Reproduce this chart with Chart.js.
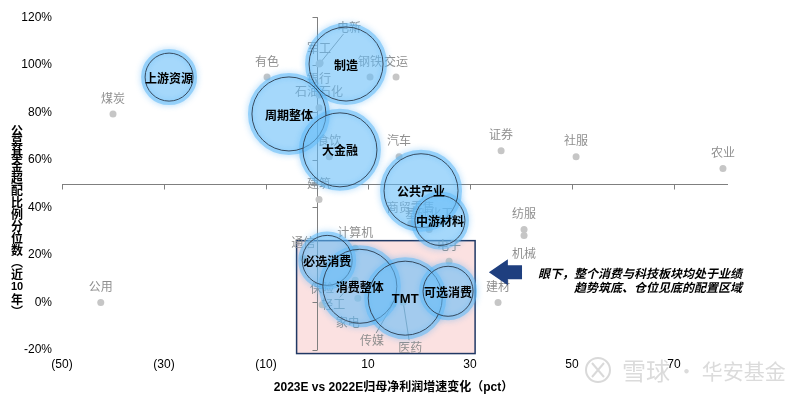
<!DOCTYPE html>
<html>
<head>
<meta charset="utf-8">
<script src="https://cdn.jsdelivr.net/npm/chart.js@4/dist/chart.umd.min.js"></script>
<style>
  html, body { margin: 0; padding: 0; background: #fff; }
  canvas { display: block; }
</style>
</head>
<body>
<canvas id="chart" width="800" height="396"></canvas>
<script>
// 行业（灰点）
const sectorNames = ['煤炭', '有色', '军工', '电新', '钢铁', '交运', '银行', '石油石化', '食饮', '汽车',
  '证券', '社服', '农业', '建筑', '商贸零售', '基础化工', '纺服', '机械', '计算机', '通信',
  '电子', '建材', '公用', '保险', '轻工', '家电', '传媒', '医药'];
const sectorX = [-40.0, -9.8, 0.4, 0.6, 10.4, 15.5, 0.4, 0.4, 2.4, 16.1,
  36.1, 50.8, 79.6, 0.4, 18.4, 22.0, 40.6, 40.6, 7.5, -2.7,
  25.9, 35.5, -42.4, 1.0, 7.5, 8.0, 14.9, 16.9];
const sectorY = [79.3, 94.8, 100.3, 100.7, 94.8, 94.8, 87.3, 81.9, 61.3, 61.3,
  63.8, 61.3, 56.3, 43.3, 33.2, 30.7, 30.7, 28.2, 22.8, 18.6,
  17.3, 0.0, 0.0, -1.0, 9.3, 1.8, -0.7, 0.1];

// 板块（气泡）
const groupNames = ['上游资源', '周期整体', '制造', '大金融', '公共产业', '中游材料', '必选消费', '消费整体', 'TMT', '可选消费'];
const groupX = [-29.0, -5.5, 5.7, 4.5, 20.4, 24.1, 2.0, 8.4, 17.3, 25.7];
const groupY = [94.8, 79.3, 100.3, 64.2, 47.0, 34.5, 17.7, 6.8, 1.8, 4.7];
const groupSize = [24, 37, 37, 37, 37, 25, 25, 37, 37, 25];

const xTickValues = [-50, -30, -10, 10, 30, 50, 70];
const xRange = [-50, 80];
const yRange = [-20, 120];
const yStep = 20;
const axisCross = { x: 0, y: 50 };
const focusBox = { x0: -4, x1: 31, y0: -21.5, y1: 26 };

const xTitle = '2023E vs 2022E归母净利润增速变化（pct）';
const yTitleChars = ['公', '募', '基', '金', '超', '配', '比', '例', '分', '位', '数', '︵', '近', '10', '年', '︶'];
const noteLines = ['眼下，整个消费与科技板块均处于业绩', '趋势筑底、仓位见底的配置区域'];

const CJK = '"Noto Sans CJK SC", "Noto Sans", sans-serif';
const LAT = '"Liberation Sans", Arial, ' + CJK;

// label placement tweaks (px from dot), third item = leader line
const labelOffsets = {
  '电新': [29, -36, true],
  '机械': [0, 18],
  '传媒': [-21, 36, true],
  '医药': [7, 45, true],
  '轻工': [-22, 24, true],
  '家电': [-10, 24]
};

const decor = {
  id: 'decor',
  beforeDatasetsDraw(chart) {
    const { ctx, scales: { x, y } } = chart;
    ctx.save();
    // focus box
    const bx0 = x.getPixelForValue(focusBox.x0), bx1 = x.getPixelForValue(focusBox.x1);
    const by0 = y.getPixelForValue(focusBox.y1), by1 = y.getPixelForValue(focusBox.y0);
    ctx.fillStyle = '#fbe1e1';
    ctx.fillRect(bx0, by0, bx1 - bx0, by1 - by0);
    ctx.strokeStyle = '#203864';
    ctx.lineWidth = 1.5;
    ctx.strokeRect(bx0, by0, bx1 - bx0, by1 - by0);

    // crossing axes
    ctx.strokeStyle = '#7f7f7f';
    ctx.lineWidth = 1;
    const ay = Math.round(y.getPixelForValue(axisCross.y)) + 0.5;
    const ax = Math.round(x.getPixelForValue(axisCross.x)) + 0.5;
    ctx.beginPath();
    ctx.moveTo(x.getPixelForValue(xRange[0]), ay);
    ctx.lineTo(x.getPixelForValue(xRange[1]) + 3, ay);
    xTickValues.forEach(v => {
      const px = Math.round(x.getPixelForValue(v)) + 0.5;
      ctx.moveTo(px, ay); ctx.lineTo(px, ay + 5);
    });
    ctx.moveTo(ax, y.getPixelForValue(yRange[1]));
    ctx.lineTo(ax, y.getPixelForValue(yRange[0]));
    for (let v = yRange[0]; v <= yRange[1]; v += yStep) {
      const py = Math.round(y.getPixelForValue(v)) + 0.5;
      ctx.moveTo(ax, py); ctx.lineTo(ax - 5, py);
    }
    ctx.stroke();

    // sector labels
    ctx.font = '12px ' + CJK;
    ctx.fillStyle = '#8f8f8f';
    ctx.textAlign = 'center';
    ctx.textBaseline = 'middle';
    sectorNames.forEach((name, i) => {
      const px = x.getPixelForValue(sectorX[i]);
      const py = y.getPixelForValue(sectorY[i]);
      const off = labelOffsets[name] || [0, -16];
      const lx = px + off[0], ly = py + off[1];
      ctx.fillText(name, lx, ly);
      if (off[2]) {
        const hw = ctx.measureText(name).width / 2 + 1, hh = 7;
        const dx = px - lx, dy = py - ly;
        const t = Math.min(dx ? hw / Math.abs(dx) : 1e9, dy ? hh / Math.abs(dy) : 1e9);
        ctx.strokeStyle = '#8f8f8f';
        ctx.beginPath();
        ctx.moveTo(lx + dx * t, ly + dy * t);
        ctx.lineTo(px, py);
        ctx.stroke();
      }
    });
    ctx.restore();
  },
  beforeDatasetDraw(chart, args) {
    if (args.index !== 0) return;
    const { ctx } = chart;
    ctx.save();
    ctx.shadowColor = 'rgba(60,165,245,0.85)';
    ctx.shadowBlur = 6;
    ctx.strokeStyle = 'rgba(95,185,248,0.55)';
    ctx.lineWidth = 4;
    args.meta.data.forEach(el => {
      ctx.beginPath();
      ctx.arc(el.x, el.y, el.options.radius + 2, 0, Math.PI * 2);
      ctx.stroke();
    });
    ctx.restore();
  },
  afterDatasetsDraw(chart) {
    const { ctx } = chart;
    const meta = chart.getDatasetMeta(0);
    ctx.save();
    ctx.fillStyle = '#000';
    ctx.textAlign = 'center';
    ctx.textBaseline = 'middle';
    meta.data.forEach((el, i) => {
      const name = groupNames[i];
      ctx.font = /^[A-Z]+$/.test(name) ? 'bold 13px ' + LAT : 'bold 12px ' + CJK;
      ctx.fillText(name, el.x, el.y + 1);
    });
    ctx.restore();
  },
  afterDraw(chart) {
    const { ctx, scales: { x, y } } = chart;
    ctx.save();
    // arrow
    const tipX = x.getPixelForValue(33.7), endX = x.getPixelForValue(40.2);
    const midX = tipX + 19, cy = y.getPixelForValue(12.7);
    ctx.fillStyle = '#1f3f7f';
    ctx.beginPath();
    ctx.moveTo(tipX, cy);
    ctx.lineTo(midX, cy - 13);
    ctx.lineTo(midX, cy - 7);
    ctx.lineTo(endX, cy - 7);
    ctx.lineTo(endX, cy + 7);
    ctx.lineTo(midX, cy + 7);
    ctx.lineTo(midX, cy + 13);
    ctx.closePath();
    ctx.fill();

    // note
    ctx.fillStyle = '#000';
    ctx.font = 'italic bold 12px ' + CJK;
    ctx.textAlign = 'right';
    ctx.textBaseline = 'middle';
    ctx.fillText(noteLines[0], 742, 273);
    ctx.fillText(noteLines[1], 742, 287);

    // vertical y title
    ctx.textAlign = 'center';
    yTitleChars.forEach((c, i) => {
      ctx.font = c === '10' ? 'bold 11px ' + LAT : 'bold 12px ' + CJK;
      ctx.fillText(c, 17, 130 + i * 12.07);
    });

    // watermark
    ctx.strokeStyle = 'rgba(170,170,170,0.45)';
    ctx.lineWidth = 2;
    ctx.beginPath();
    ctx.arc(598, 370, 12, 0, Math.PI * 2);
    ctx.stroke();
    ctx.beginPath();
    ctx.moveTo(592, 363); ctx.lineTo(604, 377);
    ctx.moveTo(604, 363); ctx.lineTo(592, 377);
    ctx.stroke();
    ctx.fillStyle = 'rgba(175,175,175,0.45)';
    ctx.font = '24px ' + CJK;
    ctx.textAlign = 'left';
    ctx.fillText('雪球', 622, 371);
    ctx.font = '21px ' + CJK;
    ctx.fillText('· 华安基金', 676, 371);
    ctx.restore();
  }
};

new Chart(document.getElementById('chart'), {
  type: 'bubble',
  data: {
    datasets: [
      {
        type: 'bubble',
        label: '板块',
        data: groupNames.map((n, i) => ({ x: groupX[i], y: groupY[i], r: groupSize[i] })),
        backgroundColor: 'rgba(100,188,248,0.58)',
        borderColor: '#34495e',
        borderWidth: 1,
        clip: false,
        order: 0
      },
      {
        type: 'scatter',
        label: '行业',
        data: sectorNames.map((n, i) => ({ x: sectorX[i], y: sectorY[i] })),
        pointRadius: 3.5,
        backgroundColor: '#c6c6c6',
        borderWidth: 0,
        clip: false,
        order: 1
      }
    ]
  },
  options: {
    responsive: false,
    devicePixelRatio: 1,
    animation: false,
    events: [],
    layout: { autoPadding: false, padding: { top: 16, right: 75, bottom: 0, left: 0 } },
    plugins: { legend: { display: false }, tooltip: { enabled: false } },
    scales: {
      x: {
        type: 'linear',
        min: xRange[0],
        max: xRange[1],
        grid: { display: false, drawTicks: false },
        border: { display: false },
        afterBuildTicks: s => { s.ticks = xTickValues.map(v => ({ value: v })); },
        afterFit: s => { s.height = 46; },
        ticks: {
          padding: 7,
          color: '#000',
          font: { family: LAT, size: 12 },
          maxRotation: 0,
          callback: v => v < 0 ? '(' + (-v) + ')' : String(v)
        },
        title: {
          display: true,
          text: xTitle,
          color: '#000',
          font: { family: LAT, size: 12, weight: 'bold' },
          padding: { top: 4, bottom: 1 }
        }
      },
      y: {
        min: yRange[0],
        max: yRange[1],
        grid: { display: false, drawTicks: false },
        border: { display: false },
        afterFit: s => { s.width = 62; },
        ticks: {
          stepSize: yStep,
          padding: 10,
          color: '#000',
          font: { family: LAT, size: 12 },
          callback: v => v + '%'
        }
      }
    }
  },
  plugins: [decor]
});
</script>
</body>
</html>
